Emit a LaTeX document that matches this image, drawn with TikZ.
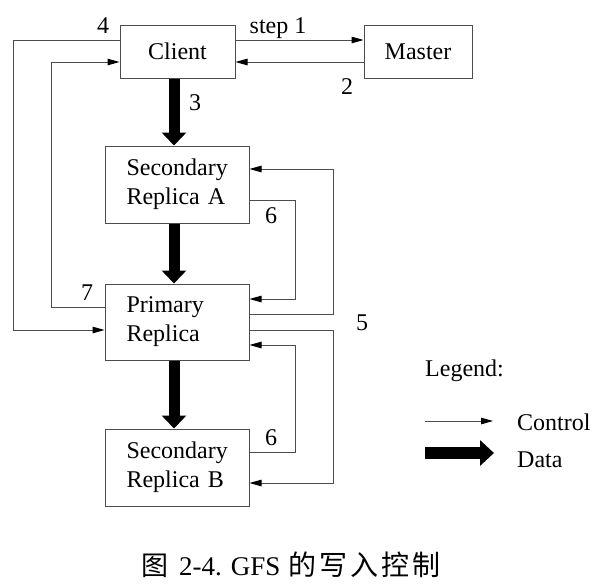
\documentclass[tikz,border=0pt]{standalone}
\usepackage{fontspec}
\setmainfont{Liberation Serif}
\newfontfamily\cjk{Noto Sans CJK SC}
\usetikzlibrary{arrows.meta}
\begin{document}
\begin{tikzpicture}[x=1pt,y=-1pt,
  font=\fontsize{24}{29}\selectfont,
  box/.style={draw=black!70, line width=1pt, rectangle, inner sep=0pt},
  repbox/.style={box, minimum width=144pt, minimum height=77pt, text width=101pt, align=left},
  ctrl/.style={draw=black!70, line width=1pt, -{Triangle[length=12pt,width=6.5pt,color=black,fill=black]}},
  dataarrow/.style={draw=black, line width=11pt, -{Triangle[length=13pt,width=24pt]}},
  lbl/.style={inner sep=0pt, anchor=base}
]
\useasboundingbox (0,0) rectangle (606,584);
% boxes
\node[box, minimum width=115pt, minimum height=53pt] (client) at (177.5,51.5) {Client};
\node[box, minimum width=108pt, minimum height=53pt] (master) at (418,51.5) {Master};
\node[repbox] (secA) at (177,184.5) {Secondary\\Replica A};
\node[repbox, minimum height=76pt] (prim) at (177,322) {Primary\\Replica};
\node[repbox] (secB) at (177,467.5) {Secondary\\Replica B};
% control arrows client/master
\draw[ctrl] ([yshift=11.5pt]client.east) -- ([yshift=11.5pt]master.west);
\draw[ctrl] ([yshift=-10.5pt]master.west) -- ([yshift=-10.5pt]client.east);
% left loops
\draw[ctrl] ([yshift=11.5pt]client.west) -| (13,330) -- ([yshift=-8pt]prim.west);
\draw[ctrl] ([yshift=15pt]prim.west) -| (51,62) -- ([yshift=-10.5pt]client.west);
% right loops
\draw[ctrl] ([yshift=8pt]prim.east) -| (333,169) -- ([yshift=15.5pt]secA.east);
\draw[ctrl] ([yshift=-15.5pt]secA.east) -| (295,299) -- ([yshift=23pt]prim.east);
\draw[ctrl] ([yshift=-8pt]prim.east) -| (333,483) -- ([yshift=-15.5pt]secB.east);
\draw[ctrl] ([yshift=15.5pt]secB.east) -| (295,345) -- ([yshift=-23pt]prim.east);
% data arrows
\draw[dataarrow] ([xshift=-3.5pt]client.south) -- ([xshift=-3.5pt]client.south |- secA.north);
\draw[dataarrow] ([xshift=-3pt]secA.south) -- ([xshift=-3pt]prim.north);
\draw[dataarrow] ([xshift=-3pt]prim.south) -- ([xshift=-3pt]secB.north);
% labels
\node[lbl] (l4) at (103,33) {4};
\node[lbl] (lstep) at (278,33) {step 1};
\node[lbl] (l2) at (347,94) {2};
\node[lbl] (l3) at (195,110) {3};
\node[lbl] (l6a) at (271,223) {6};
\node[lbl] (l7) at (87,300) {7};
\node[lbl] (l5) at (362,330) {5};
\node[lbl] (l6b) at (271,445) {6};
% legend
\node[lbl, anchor=base west] (leg) at (425,376) {Legend:};
\coordinate (lc1) at (425,421);
\coordinate (lc2) at (493,421);
\draw[ctrl] (lc1) -- (lc2);
\coordinate (ld1) at (425,453);
\coordinate (ld2) at (494,453);
\draw[dataarrow, line width=12pt, -{Triangle[length=14pt,width=25pt]}] (ld1) -- (ld2);
\node[lbl, anchor=base west] (lctrl) at (517,430) {Control};
\node[lbl, anchor=base west] (ldata) at (517,467) {Data};
% caption
\node[lbl, anchor=base west, font=\fontsize{27}{30}\selectfont] (cap) at (141,575)
  {{\cjk\fontsize{27}{30}\selectfont 图}\hspace{11pt}2-4. GFS\hspace{8pt}{\cjk\fontsize{28}{30}\selectfont 的\hspace{3pt}写\hspace{3pt}入\hspace{3pt}控\hspace{3pt}制}};
\end{tikzpicture}
\end{document}
